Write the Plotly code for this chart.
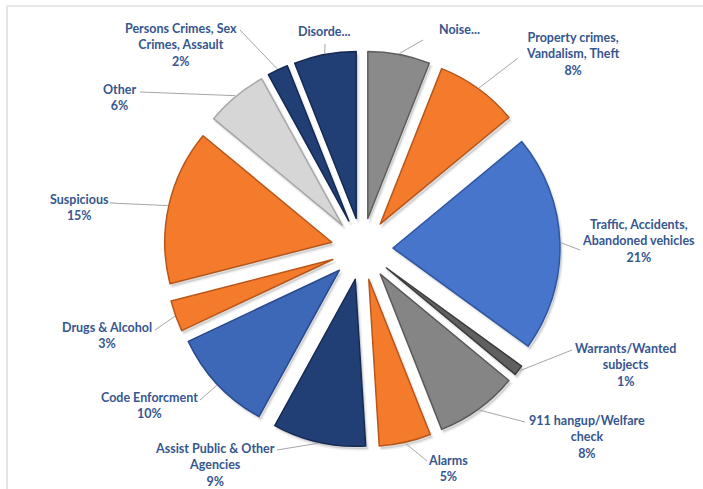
import math
import plotly.graph_objects as go

# Call categories, clockwise from 12 o'clock
categories = [
    "Noise", "Property crimes, Vandalism, Theft", "Traffic, Accidents, Abandoned vehicles",
    "Warrants/Wanted subjects", "911 hangup/Welfare check", "Alarms",
    "Assist Public & Other Agencies", "Code Enforcment", "Drugs & Alcohol",
    "Suspicious", "Other", "Persons Crimes, Sex Crimes, Assault", "Disorder",
]
shares = [6, 8, 21, 1, 8, 5, 9, 10, 3, 15, 6, 2, 6]

# Wrapped label lines; truncated labels carry no percentage
label_lines = [
    ["Noise..."],
    ["Property crimes,", "Vandalism, Theft"],
    ["Traffic, Accidents,", "Abandoned vehicles"],
    ["Warrants/Wanted", "subjects"],
    ["911 hangup/Welfare", "check"],
    ["Alarms"],
    ["Assist Public & Other", "Agencies"],
    ["Code Enforcment"],
    ["Drugs & Alcohol"],
    ["Suspicious"],
    ["Other"],
    ["Persons Crimes, Sex", "Crimes, Assault"],
    ["Disorde..."],
]
show_pct = [False, True, True, True, True, True, True, True, True, True, True, True, False]

fill_colors = [
    "#8a8a8a", "#f47b2c", "#4775cb", "#606060", "#858585", "#f47b2c", "#223f75",
    "#3d68b8", "#f47b2c", "#f47b2c", "#d6d6d6", "#223f75", "#223f75",
]
edge_colors = [
    "#5e5e5e", "#b8561a", "#2f56a0", "#3c3c3c", "#5a5a5a", "#b8561a", "#142a52",
    "#28498c", "#b8561a", "#b8561a", "#a8a8a8", "#142a52", "#142a52",
]

# Page geometry (pixels)
W, H = 703, 489
CX, CY = 362, 249          # pie centre
R = 167                    # slice radius
D = 31                     # explode distance
PULL = D / R
HALF = R + D               # half-size of the pie domain


def px(x):
    return x / W


def py(y):
    return (H - y) / H


# Label block centres and the label-side end of each leader line (pixels)
label_pos = [
    (459, 30), (572, 54), (638, 241), (625, 365), (587, 437), (448, 468),
    (215, 465), (149, 405), (107, 335), (79, 208), (120, 97), (181, 45), (324, 32),
]
leader_end = [
    (423, 40), (518, 58), (580, 250), (572, 350), (525, 422), (427, 461),
    (277, 450), (200, 400), (155, 330), (110, 203), (140, 92), (240, 30), (325, 44),
]

fig = go.Figure()

# soft drop shadow under the slices
sx, sy = 2, 3
fig.add_trace(go.Pie(
    values=shares, labels=categories, sort=False, direction="clockwise", rotation=0,
    pull=PULL, textinfo="none", hoverinfo="skip", showlegend=False,
    marker=dict(colors=["rgba(0,0,0,0.13)"] * len(shares),
                line=dict(color="rgba(0,0,0,0.06)", width=3)),
    domain=dict(x=[px(CX - HALF + sx), px(CX + HALF + sx)],
                y=[py(CY + HALF + sy), py(CY - HALF + sy)]),
))

fig.add_trace(go.Pie(
    values=shares, labels=categories, sort=False, direction="clockwise", rotation=0,
    pull=PULL, textinfo="none", showlegend=False,
    marker=dict(colors=fill_colors, line=dict(color=edge_colors, width=1.5)),
    domain=dict(x=[px(CX - HALF), px(CX + HALF)], y=[py(CY + HALF), py(CY - HALF)]),
))

total = sum(shares)
cum = 0
shapes = []
annotations = []
for i, v in enumerate(shares):
    mid = math.radians((cum + v / 2) / total * 360)
    cum += v
    # point on the outer arc of the exploded slice, along its bisector
    sxp = CX + (HALF + 1) * math.sin(mid)
    syp = CY - (HALF + 1) * math.cos(mid)
    ex, ey = leader_end[i]
    shapes.append(dict(type="line", xref="paper", yref="paper",
                       x0=px(sxp), y0=py(syp), x1=px(ex), y1=py(ey),
                       line=dict(color="#a6a6a6", width=1)))
    lines = list(label_lines[i])
    if show_pct[i]:
        lines.append(f"{v}%")
    lx, ly = label_pos[i]
    annotations.append(dict(
        x=px(lx), y=py(ly), xref="paper", yref="paper", showarrow=False,
        text="<br>".join(lines), align="center", xanchor="center", yanchor="middle",
        font=dict(family="Lato", size=12.5, color="#36568f", weight="bold"),
    ))

# chart frame (top and left edges visible)
shapes.append(dict(type="line", xref="paper", yref="paper",
                   x0=px(7), y0=py(6), x1=px(710), y1=py(6),
                   line=dict(color="#dedede", width=1.5)))
shapes.append(dict(type="line", xref="paper", yref="paper",
                   x0=px(7), y0=py(6), x1=px(7), y1=py(495),
                   line=dict(color="#dedede", width=1.5)))

fig.update_layout(
    width=W, height=H, margin=dict(l=0, r=0, t=0, b=0),
    paper_bgcolor="white", plot_bgcolor="white",
    shapes=shapes, annotations=annotations, showlegend=False,
)

fig.write_html("out.html")
